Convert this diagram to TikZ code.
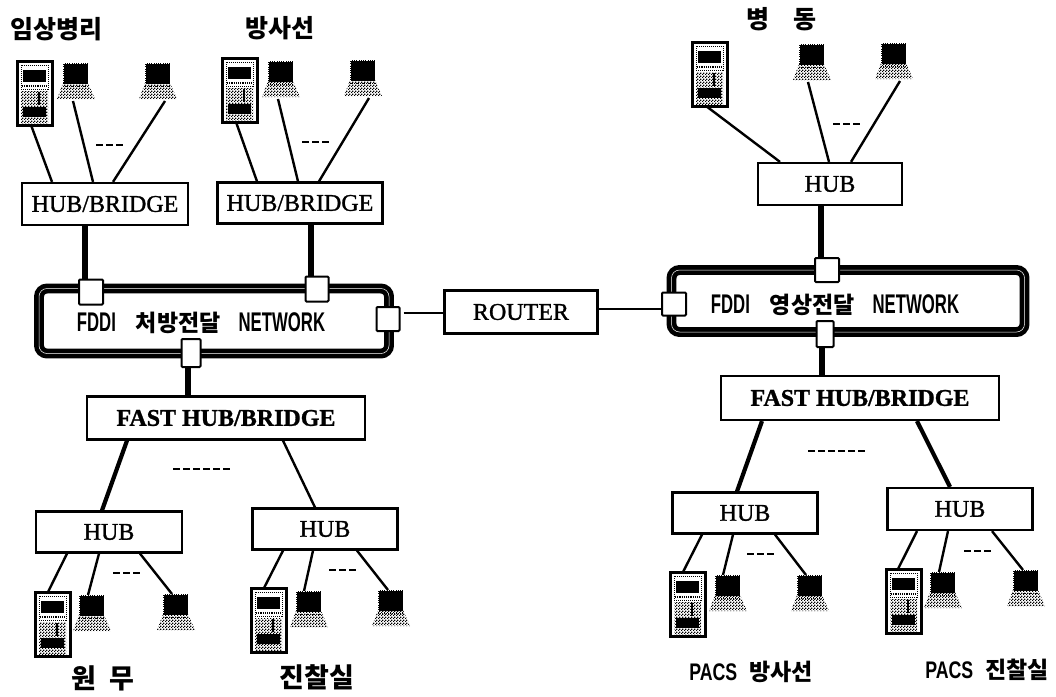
\documentclass[tikz,border=0pt]{standalone}
\usepackage{fontspec}
\setmainfont[FakeBold=1.2]{Liberation Serif}
\newfontfamily\korfont{Noto Sans CJK KR}
\newfontfamily\fddifont[FakeStretch=0.62]{Liberation Sans}
\newfontfamily\pacsfont[FakeStretch=0.74]{Liberation Sans}
\usetikzlibrary{patterns}

\pgfdeclarepatternformonly{halftone}{\pgfqpoint{0pt}{0pt}}{\pgfqpoint{3pt}{3pt}}{\pgfqpoint{3pt}{3pt}}{
  \pgfpathrectangle{\pgfqpoint{0pt}{0pt}}{\pgfqpoint{1.5pt}{1.5pt}}
  \pgfpathrectangle{\pgfqpoint{1.5pt}{1.5pt}}{\pgfqpoint{1.5pt}{1.5pt}}
  \pgfusepath{fill}
}

\tikzset{
  hubbox/.style={draw, line width=2.2pt, fill=white, inner sep=0pt,
    font=\fontsize{24}{26}\selectfont},
  fastbox/.style={hubbox, font=\fontsize{24}{26}\selectfont\bfseries},
  ringbox/.style={draw, line width=4.7pt, double=white, double distance=.5pt,
    rounded corners=8pt, inner sep=0pt},
  portbox/.style={draw, line width=2pt, fill=white, rounded corners=1pt, inner sep=0pt},
  link/.style={line width=2.4pt},
  trunk/.style={line width=6.5pt},
  spoke/.style={line width=4.2pt},
  gapline/.style={line width=1.8pt, dash pattern=on 7pt off 3pt},
  kortitle/.style={font=\fontsize{25}{28}\korfont\bfseries},
  pacstitle/.style={font=\fontsize{24}{26}\pacsfont\bfseries},
  srvpic/.pic={
    \fill[white] (0,0) rectangle (35,64);
    \fill[pattern=halftone] (4,30) rectangle (31,62);
    \draw[line width=3pt] (0,0) rectangle (35,64);
    \draw[line width=1pt, densely dotted] (4,4) rectangle (31,28);
    \fill (6,9) rectangle (29,21);
    \draw[line width=1.2pt, densely dotted] (5,25) -- (30,25);
    \fill (6,46) rectangle (29,56);
    \draw[line width=1.4pt] (22,31) -- (22,44);
    \coordinate (-top) at (14,0);
    \coordinate (-bot) at (14,64);
  },
  pcpic/.pic={
    \fill (6,0) rectangle (31,21);
    \draw[white, line width=.8pt, densely dotted] (6,0) rectangle (31,21);
    \fill[pattern=halftone] (6,20) -- (31,20) -- (38,36) -- (0,36) -- cycle;
    \draw[line width=1pt, densely dotted] (6,23) -- (31,23);
    \coordinate (-top) at (19,0);
    \coordinate (-bot) at (19,38);
  },
}

\begin{document}
\begin{tikzpicture}[x=1pt, y=-1pt]
  \useasboundingbox (0,0) rectangle (1056,696);

  % Rings
  \node[ringbox, minimum width=350pt, minimum height=65pt] (fddiA) at (214,321) {};
  \node[ringbox, minimum width=353pt, minimum height=62pt] (fddiB) at (848,301) {};
  \node[font=\fontsize{27}{30}\fddifont\bfseries] (fddiAtext) at (201,323)
    {FDDI\hspace{20pt}{\fontsize{23}{26}\korfont\bfseries 처방전달}\hspace{18pt}NETWORK};
  \node[font=\fontsize{27}{30}\fddifont\bfseries] (fddiBtext) at (835,305)
    {FDDI\hspace{20pt}{\fontsize{23}{26}\korfont\bfseries 영상전달}\hspace{18pt}NETWORK};

  % Ports
  \node[portbox, minimum width=24pt, minimum height=25pt] (portA) at (91,292) {};
  \node[portbox, minimum width=23pt, minimum height=25pt] (portB) at (317,289) {};
  \node[portbox, minimum width=23pt, minimum height=24pt] (portC) at (388,319) {};
  \node[portbox, minimum width=19pt, minimum height=28pt] (portD) at (191,353) {};
  \node[portbox, minimum width=24pt, minimum height=23pt] (portE) at (674,304) {};
  \node[portbox, minimum width=24pt, minimum height=24pt] (portF) at (827,270) {};
  \node[portbox, minimum width=17pt, minimum height=26pt] (portG) at (825,334) {};

  % Boxes
  \node[hubbox, minimum width=166pt, minimum height=42pt] (hubA) at (105,204) {HUB/BRIDGE};
  \node[hubbox, minimum width=165pt, minimum height=41pt] (hubB) at (300,203) {HUB/BRIDGE};
  \node[hubbox, minimum width=144pt, minimum height=42pt] (hubC) at (830,184) {HUB};
  \node[hubbox, minimum width=153pt, minimum height=43pt] (router) at (521,312) {ROUTER};
  \node[fastbox, minimum width=278pt, minimum height=43pt] (fastA) at (226,418) {FAST HUB/BRIDGE};
  \node[fastbox, minimum width=278pt, minimum height=44pt] (fastB) at (860,398) {FAST HUB/BRIDGE};
  \node[hubbox, minimum width=146pt, minimum height=41pt] (hubD) at (109,532) {HUB};
  \node[hubbox, minimum width=145pt, minimum height=41pt] (hubE) at (325,529) {HUB};
  \node[hubbox, minimum width=145pt, minimum height=41pt] (hubF) at (745,513) {HUB};
  \node[hubbox, minimum width=145pt, minimum height=42pt] (hubG) at (960,509) {HUB};

  % Machines
  \pic (srvA) at (17,61) {srvpic};
  \pic (pcA) at (57,63) {pcpic};
  \pic (pcB) at (139,63) {pcpic};
  \pic (srvB) at (222,58) {srvpic};
  \pic (pcC) at (262,61) {pcpic};
  \pic (pcD) at (344,60) {pcpic};
  \pic (srvC) at (692,42) {srvpic};
  \pic (pcE) at (793,44) {pcpic};
  \pic (pcF) at (875,43) {pcpic};
  \pic (srvD) at (35,592) {srvpic};
  \pic (pcG) at (73,595) {pcpic};
  \pic (pcH) at (157,594) {pcpic};
  \pic (srvE) at (251,588) {srvpic};
  \pic (pcI) at (290,591) {pcpic};
  \pic (pcJ) at (372,590) {pcpic};
  \pic (srvF) at (670,572) {srvpic};
  \pic (pcK) at (709,575) {pcpic};
  \pic (pcL) at (791,575) {pcpic};
  \pic (srvG) at (886,569) {srvpic};
  \pic (pcM) at (924,572) {pcpic};
  \pic (pcN) at (1007,570) {pcpic};

  % Links to the upper hubs
  \draw[link] (srvA-bot) -- ([xshift=-53pt]hubA.north);
  \draw[link] ([xshift=-3pt]pcA-bot) -- ([xshift=-12pt]hubA.north);
  \draw[link] ([xshift=7pt]pcB-bot) -- ([xshift=8pt]hubA.north);
  \draw[link] (srvB-bot) -- ([xshift=-43pt]hubB.north);
  \draw[link] ([xshift=-3pt]pcC-bot) -- ([xshift=-2pt]hubB.north);
  \draw[link] ([xshift=6pt]pcD-bot) -- ([xshift=19pt]hubB.north);
  \draw[link] (srvC-bot) -- ([xshift=-50pt]hubC.north);
  \draw[link] ([xshift=-4pt]pcE-bot) -- ([xshift=-1pt]hubC.north);
  \draw[link] ([xshift=6pt]pcF-bot) -- ([xshift=21pt]hubC.north);

  % Trunks
  \draw[trunk] ([xshift=-20pt]hubA.south) -- ([xshift=-6pt]portA.north);
  \draw[trunk] ([xshift=11pt]hubB.south) -- ([xshift=-6pt]portB.north);
  \draw[trunk] ([xshift=-9pt]hubC.south) -- ([xshift=-6pt]portF.north);
  \draw[trunk] ([xshift=-3pt]portD.south) -- ([xshift=-38pt]fastA.north);
  \draw[trunk] ([xshift=-3pt]portG.south) -- ([xshift=-38pt]fastB.north);

  % Router links
  \draw[line width=1.4pt] ([xshift=3pt,yshift=6pt]portC.east) -- ([yshift=-1pt]router.west);
  \draw[line width=1.4pt] ([yshift=3pt]router.east) -- ([yshift=-5pt]portE.west);

  % Fast hubs down to hubs
  \draw[spoke] ([xshift=-99pt]fastA.south) -- ([xshift=-7pt]hubD.north);
  \draw[link] ([xshift=57pt]fastA.south) -- ([xshift=-10pt]hubE.north);
  \draw[spoke] ([xshift=-98pt]fastB.south) -- ([xshift=-8pt]hubF.north);
  \draw[spoke] ([xshift=57pt]fastB.south) -- ([xshift=-10pt]hubG.north);

  % Links under the lower hubs
  \draw[link] ([xshift=-42pt]hubD.south) -- ([xshift=-1pt]srvD-top);
  \draw[link] ([xshift=-10pt]hubD.south) -- ([xshift=-4pt]pcG-top);
  \draw[link] ([xshift=31pt]hubD.south) -- ([xshift=-4pt]pcH-top);
  \draw[link] ([xshift=-42pt]hubE.south) -- ([xshift=-1pt]srvE-top);
  \draw[link] ([xshift=-12pt]hubE.south) -- ([xshift=-5pt]pcI-top);
  \draw[link] ([xshift=32pt]hubE.south) -- ([xshift=-3pt]pcJ-top);
  \draw[link] ([xshift=-43pt]hubF.south) -- ([xshift=-1pt]srvF-top);
  \draw[link] ([xshift=-12pt]hubF.south) -- ([xshift=-5pt]pcK-top);
  \draw[link] ([xshift=30pt]hubF.south) -- ([xshift=-4pt]pcL-top);
  \draw[link] ([xshift=-43pt]hubG.south) -- ([xshift=-2pt]srvG-top);
  \draw[link] ([xshift=-12pt]hubG.south) -- ([xshift=-4pt]pcM-top);
  \draw[link] ([xshift=32pt]hubG.south) -- ([xshift=-3pt]pcN-top);

  % Gaps
  \foreach \x/\y/\w in {96/145/29, 302/142/29, 833/124/29, 113/573/29, 329/570/29, 747/554/29, 964/551/28, 173/469/59, 808/451/59}
    \draw[gapline] (\x,\y) -- ++(\w,0);

  % Titles
  \node[kortitle] (titleA) at (56,29) {임상병리};
  \node[kortitle] (titleB) at (280,28) {방사선};
  \node[kortitle] (titleC) at (781,19) {병\hspace{24pt}동};
  \node[kortitle, font=\fontsize{27}{30}\korfont\bfseries] (titleD) at (103,678) {원\hspace{14pt}무};
  \node[kortitle, font=\fontsize{27}{30}\korfont\bfseries] (titleE) at (317,677) {진찰실};
  \node[pacstitle] (titleF) at (751,672) {PACS\hspace{12pt}{\fontsize{23}{26}\korfont\bfseries 방사선}};
  \node[pacstitle] (titleG) at (987,670) {PACS\hspace{12pt}{\fontsize{23}{26}\korfont\bfseries 진찰실}};
\end{tikzpicture}
\end{document}
